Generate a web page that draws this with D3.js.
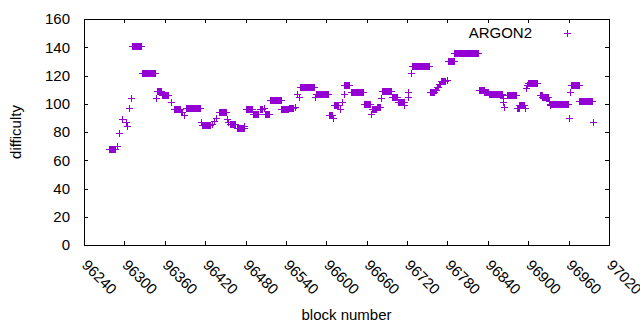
<!DOCTYPE html>
<html>
<head>
<meta charset="utf-8">
<script src="https://cdnjs.cloudflare.com/ajax/libs/d3/7.8.5/d3.min.js"></script>
<style>
  body { margin: 0; background: #fff; }
  text { font-family: "Liberation Sans", Arial, sans-serif; font-size: 15px; fill: #000; }
  .axis path, .axis line { stroke: #000; stroke-width: 1; shape-rendering: crispEdges; }
</style>
</head>
<body>
<div id="chart"></div>
<script>
// runs of consecutive blocks that share the same difficulty: [first block, last block, difficulty]
var runStart = [96277, 96289, 96292, 96297, 96303, 96304, 96307, 96310, 96312, 96326,
                96347, 96349, 96356, 96369, 96373, 96384, 96388, 96392, 96414, 96416,
                96430, 96433, 96436, 96441, 96452, 96454, 96457, 96467, 96478, 96480,
                96482, 96491, 96501, 96507, 96509, 96516, 96533, 96544, 96553, 96556,
                96559, 96561, 96583, 96584, 96604, 96610, 96611, 96621, 96624, 96626,
                96627, 96636, 96656, 96667, 96668, 96675, 96682, 96683, 96697, 96706,
                96716, 96721, 96722, 96726, 96727, 96754, 96761, 96764, 96767, 96770,
                96779, 96781, 96790, 96827, 96835, 96841, 96862, 96863, 96864, 96868,
                96883, 96887, 96895, 96897, 96898, 96899, 96917, 96921, 96931, 96932,
                96933, 96960, 96962, 96963, 96976, 96996];
var runEnd   = [96286, 96289, 96292, 96297, 96303, 96304, 96307, 96310, 96325, 96346,
                96347, 96355, 96365, 96369, 96383, 96386, 96388, 96412, 96414, 96427,
                96430, 96433, 96436, 96451, 96452, 96454, 96465, 96477, 96478, 96480,
                96490, 96499, 96505, 96507, 96515, 96532, 96543, 96551, 96553, 96556,
                96559, 96581, 96583, 96602, 96609, 96610, 96618, 96621, 96624, 96626,
                96634, 96655, 96665, 96667, 96674, 96680, 96682, 96696, 96705, 96715,
                96716, 96721, 96722, 96726, 96753, 96760, 96763, 96766, 96769, 96777,
                96779, 96789, 96826, 96834, 96840, 96861, 96862, 96863, 96864, 96882,
                96886, 96894, 96895, 96897, 96898, 96913, 96920, 96930, 96931, 96959,
                96933, 96960, 96962, 96975, 96994, 96996];
var runDiff  = [68, 70, 79, 89, 87, 84, 97, 104, 141, 122,
                104, 109, 106, 101, 96, 94, 92, 97, 87, 85,
                86, 88, 90, 94, 89, 87, 86, 83, 84, 96,
                96, 93, 96, 97, 93, 103, 96, 97, 98, 107,
                105, 112, 105, 107, 92, 90, 99, 96, 101, 107,
                113, 108, 100, 93, 96, 98, 104, 109, 105, 101,
                99, 108, 105, 122, 127, 108, 110, 112, 114, 116,
                117, 130, 136, 110, 108, 107, 104, 101, 98, 106,
                97, 99, 97, 111, 113, 115, 106, 105, 102, 100,
                99, 90, 108, 113, 102, 87];

var xTicks = d3.range(96240, 97021, 60);
var yTicks = d3.range(0, 161, 20);
var seriesName = "ARGON2";

var width = 640, height = 330;
var margin = {left: 84, right: 31, top: 19, bottom: 85};
var color = "#9400d3";
var h = 3.5; // half size of a "+" point

var svg = d3.select("#chart").append("svg").attr("width", width).attr("height", height);

var x = d3.scaleLinear().domain([96240, 97020]).range([margin.left, width - margin.right]);
var y = d3.scaleLinear().domain([0, 160]).range([height - margin.bottom, margin.top]);

// axes, ticks pointing inwards and mirrored like gnuplot
svg.append("g").attr("class", "axis").attr("transform", "translate(0," + y(0) + ")")
   .call(d3.axisBottom(x).tickValues(xTicks).tickSizeInner(-4).tickSizeOuter(0).tickFormat(""));
svg.append("g").attr("class", "axis").attr("transform", "translate(0," + y(160) + ")")
   .call(d3.axisTop(x).tickValues(xTicks).tickSizeInner(-4).tickSizeOuter(0).tickFormat(""));
svg.append("g").attr("class", "axis").attr("transform", "translate(" + x(96240) + ",0)")
   .call(d3.axisLeft(y).tickValues(yTicks).tickSizeInner(-4).tickSizeOuter(0).tickFormat(""));
svg.append("g").attr("class", "axis").attr("transform", "translate(" + x(97020) + ",0)")
   .call(d3.axisRight(y).tickValues(yTicks).tickSizeInner(-4).tickSizeOuter(0).tickFormat(""));

svg.selectAll(".ylab").data(yTicks).enter().append("text")
   .attr("x", x(96240) - 14).attr("y", function(d){return y(d);}).attr("dy", "0.36em")
   .attr("text-anchor", "end").text(function(d){return d;});

svg.selectAll(".xlab").data(xTicks).enter().append("text")
   .attr("text-anchor", "start")
   .attr("transform", function(d){return "translate(" + (x(d) - 3) + "," + (y(0) + 21) + ") rotate(45)";})
   .text(function(d){return d;});

svg.append("text").attr("x", (x(96240) + x(97020)) / 2).attr("y", 320)
   .attr("text-anchor", "middle").text("block number");
svg.append("text").attr("transform", "translate(21," + (y(80)) + ") rotate(-90)")
   .attr("text-anchor", "middle").text("difficulty");

// points: a run of overlapping "+" marks becomes a filled bar with arms at each end
var runs = runStart.map(function(s, i){return {s: s, e: runEnd[i], d: runDiff[i]};});
var g = svg.append("g").attr("shape-rendering", "crispEdges");
g.selectAll(".bar").data(runs).enter().append("rect")
   .attr("x", function(r){return Math.round(x(r.s)) - 0.5;})
   .attr("width", function(r){return Math.round(x(r.e)) - Math.round(x(r.s)) + 1;})
   .attr("y", function(r){return Math.round(y(r.d)) - h;})
   .attr("height", 2 * h)
   .attr("fill", color);
g.selectAll(".arm").data(runs).enter().append("line")
   .attr("x1", function(r){return Math.round(x(r.s)) - h;})
   .attr("x2", function(r){return Math.round(x(r.e)) + h;})
   .attr("y1", function(r){return Math.round(y(r.d)) + 0.5;})
   .attr("y2", function(r){return Math.round(y(r.d)) + 0.5;})
   .attr("stroke", color).attr("stroke-width", 1);

// legend
svg.append("text").attr("x", 532).attr("y", 38).attr("text-anchor", "end").text(seriesName);
svg.append("path").attr("d", "M" + (567 - h) + ",33.5h" + (2 * h) + "M567.5," + (33 - h) + "v" + (2 * h))
   .attr("stroke", color).attr("stroke-width", 1).attr("shape-rendering", "crispEdges");
</script>
</body>
</html>
